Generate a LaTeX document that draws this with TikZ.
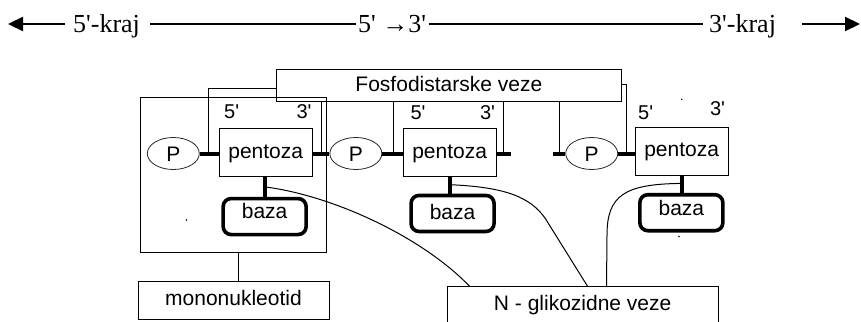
\documentclass[tikz,border=0pt]{standalone}
\usepackage{fontspec}
\setmainfont{Liberation Serif}[Ligatures=TeXOff]
\newfontfamily\sansf{Liberation Sans}[Ligatures=TeXOff]
\usetikzlibrary{shapes.geometric,arrows.meta,calc}
\begin{document}
\begin{tikzpicture}[x=1pt,y=-1pt,
  thinln/.style={line width=1pt, black},
  sfont/.style={font=\sansf\fontsize{21}{25}\selectfont},
  box/.style={draw, line width=1pt, inner sep=0pt, sfont, text height=15pt, text depth=4pt},
  pbox/.style={ellipse, draw=black!85, line width=0.8pt, inner sep=0pt, minimum width=52pt, minimum height=32pt, sfont, text height=15pt, text depth=0pt},
  bazabox/.style={draw, rounded corners=8pt, line width=3.6pt, inner sep=0pt, minimum width=83pt, minimum height=36pt, sfont, text height=15pt, text depth=12pt},
  penbox/.style={box, minimum width=93pt, minimum height=48pt},
  bond/.style={line width=4pt},
  lbl/.style={inner sep=0pt, anchor=base, font=\sansf\fontsize{20}{24}\selectfont},
  toptxt/.style={inner sep=0pt, anchor=base west, font=\fontsize{26}{30}\selectfont, text height=17.6pt, text depth=1pt},
  topline/.style={line width=1.5pt},
  toparrow/.style={line width=2.2pt, -{Triangle[length=15pt,width=14pt]}},
]
\useasboundingbox (0,0) rectangle (861,321);
\clip (0,0) rectangle (861,321);

% ---------- top row ----------
\node[toptxt] (k5) at (73,32.3) {5'-kraj};
\node[toptxt] (mid) at (358,32.3) {5' →3'};
\node[toptxt] (k3) at (709,32.3) {3'-kraj};
\coordinate (lt) at (8,24);
\coordinate (rt) at (860,24);
\draw[topline] ([xshift=10pt]k5.east) -- ([xshift=-2pt]mid.west);
\draw[topline] ([xshift=3pt]mid.east) -- ([xshift=-6pt]k3.west);
\draw[toparrow] ([xshift=-8pt]k5.west) -- (lt);
\draw[toparrow] ([xshift=26pt]k3.east) -- (rt);

% ---------- boxes ----------
\node[box, minimum width=186.7pt, minimum height=155pt] (grp) at (233.35,174.8) {};
\node[box, minimum width=344.3pt, minimum height=32.4pt] (fos) at (448.85,85.5) {Fosfodistarske veze};
\node[box, minimum width=191pt, minimum height=38pt] (mono) at (233.5,300) {mononukleotid};
\node[box, minimum width=270.7pt, minimum height=37.3pt] (nbox) at (582.65,305.35) {N - glikozidne veze};

\node[pbox] (p1) at (173.3,153.5) {P};
\node[pbox] (p2) at (355.85,153.5) {P};
\node[pbox] (p3) at (591.7,153.5) {P};

\node[penbox] (pen1) at (265.7,152.5) {pentoza};
\node[penbox] (pen2) at (449.65,152.85) {pentoza};
\node[penbox] (pen3) at (681.65,151.15) {pentoza};

\node[bazabox] (baza1) at (264.65,216.55) {baza};
\node[bazabox, text depth=2pt] (baza2) at (452.55,213.45) {baza};
\node[bazabox, text depth=9.4pt] (baza3) at (681.35,212.7) {baza};

% 5' / 3' labels
\node[lbl] (l51) at (231.7,118.3) {5'};
\node[lbl] (l31) at (304,118.3) {3'};
\node[lbl] (l52) at (418,119.5) {5'};
\node[lbl] (l32) at (487.5,119.5) {3'};
\node[lbl] (l53) at (645.7,119.5) {5'};
\node[lbl] (l33) at (717.5,115) {3'};

% ---------- bonds ----------
\draw[bond] (p1.east) -- (p1.east -| pen1.west);
\draw[bond] (p2.west -| pen1.east) -- (p2.west);
\draw[bond] (p2.east) -- (p2.east -| pen2.west);
\coordinate (s1) at (510.7,153.5);
\coordinate (s2) at (552.7,153.5);
\draw[bond] (s1 -| pen2.east) -- (s1);
\draw[bond] (s2) -- (s2 -| p3.west);
\draw[bond] (p3.east) -- (p3.east -| pen3.west);

% stems to bases
\draw[bond] (pen1.south -| baza1.north) -- (baza1.north);
\draw[bond] (pen2.south) -- (pen2.south |- baza2.north);
\draw[bond] (pen3.south) -- (pen3.south |- baza3.north);

% ---------- phosphodiester brackets ----------
\coordinate (b1) at (208.3,153.5);
\coordinate (b2) at (321,153.5);
\coordinate (b3) at (393.3,153.5);
\coordinate (b4) at (503.3,153.5);
\coordinate (b5) at (559.3,153.5);
\coordinate (b6) at (626,153.5);
\draw[thinln] (b1) |- ([yshift=-2.8pt]fos.west);
\draw[thinln] (b2) -- (b2 |- fos.south);
\draw[thinln] (b3) -- (b3 |- fos.south);
\draw[thinln] (b4) -- (b4 |- fos.south);
\draw[thinln] (b5) -- (b5 |- fos.south);
\draw[thinln] (b6) |- ([yshift=1.5pt]fos.east);

% ---------- group to mononukleotid ----------
\draw[thinln] ([xshift=5.6pt]grp.south) -- ([xshift=5.6pt]grp.south |- mono.north);

% ---------- N-glycosidic connectors ----------
\coordinate (g1) at ($(pen1.south -| baza1.north)!0.5!(baza1.north)$);
\coordinate (g2) at ($(pen2.south)!0.45!(pen2.south |- baza2.north)$);
\coordinate (g3) at ($(pen3.south)!0.45!(pen3.south |- baza3.north)$);
\draw[thinln] (g1) .. controls (330,195) and (420,235) .. ([xshift=22.7pt]nbox.north west);
\draw[thinln] (g2) .. controls (505,187) and (530,197) .. (545,218) -- ([xshift=140.7pt]nbox.north west);
\draw[thinln] (g3) .. controls (625,184) and (607,195) .. (607,235) -- ([xshift=159.7pt]nbox.north west);

% stray specks
\fill (186.5,220) circle (0.8pt);
\fill (681.7,99.3) circle (0.8pt);
\fill (679,236.5) circle (0.8pt);
\end{tikzpicture}
\end{document}
